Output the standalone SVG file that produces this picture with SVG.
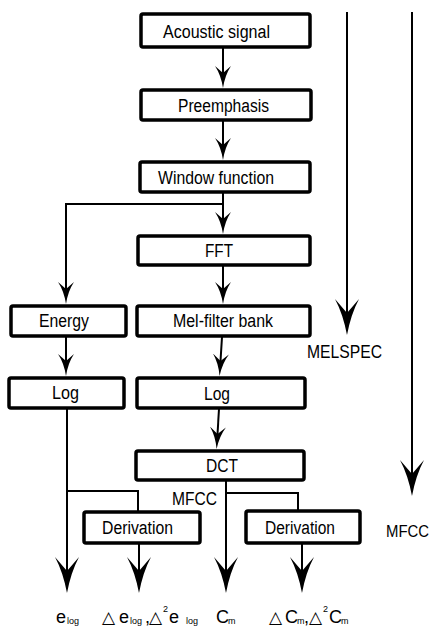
<svg xmlns="http://www.w3.org/2000/svg" width="434" height="626" viewBox="0 0 434 626">
<style>
.box{fill:#fff;stroke:#000;stroke-width:3.5}
.lbl{font-family:"Liberation Sans",Arial,sans-serif;font-size:18px;fill:#000}
.con{fill:none;stroke:#000;stroke-width:2}
.big{font-family:"Liberation Sans",Arial,sans-serif;font-size:18px;fill:#000}
.sub{font-family:"Liberation Sans",Arial,sans-serif;font-size:9px;fill:#000}
.tri{font-family:"DejaVu Sans",sans-serif;font-size:17px;fill:#000}
</style>
<defs>
<marker id="sa" markerUnits="userSpaceOnUse" viewBox="0 -9 22 18" refX="7" refY="0" markerWidth="22" markerHeight="18" orient="auto">
<path d="M22,0 Q9,-2 0,-8 L7,0 L0,8 Q9,2 22,0 Z" fill="#000"/>
</marker>
<marker id="la" markerUnits="userSpaceOnUse" viewBox="0 -13 36 26" refX="14" refY="0" markerWidth="36" markerHeight="26" orient="auto">
<path d="M36,0 Q15,-4 0,-12 L14,0 L0,12 Q15,4 36,0 Z" fill="#000"/>
</marker>
</defs>
<g id="connectors">
<path class="con" d="M223,48 V73" marker-end="url(#sa)"/>
<path class="con" d="M223,121 V145" marker-end="url(#sa)"/>
<path class="con" d="M223,193 V219" marker-end="url(#sa)"/>
<path class="con" d="M223,204 H66 V289" marker-end="url(#sa)"/>
<path class="con" d="M223,266 V289" marker-end="url(#sa)"/>
<path class="con" d="M66,337 V361" marker-end="url(#sa)"/>
<path class="con" d="M222,337 L220.5,361" marker-end="url(#sa)"/>
<path class="con" d="M219,409 L217.5,434" marker-end="url(#sa)"/>
<path class="con" d="M67,409 V571" marker-end="url(#la)"/>
<path class="con" d="M67,491 H138 V511"/>
<path class="con" d="M139,544 V571" marker-end="url(#la)"/>
<path class="con" d="M226,481 V571" marker-end="url(#la)"/>
<path class="con" d="M226,493 H298 V510"/>
<path class="con" d="M302,544 V571" marker-end="url(#la)"/>
<path class="con" d="M347,12 V313" marker-end="url(#la)"/>
<path class="con" d="M412,12 V474" marker-end="url(#la)"/>
</g>
<g id="n_acoustic"><rect class="box" x="141" y="14" width="169" height="33" rx="2"/><text class="lbl" x="163" y="38" textLength="107" lengthAdjust="spacingAndGlyphs">Acoustic signal</text></g>
<g id="n_preemphasis"><rect class="box" x="141" y="90" width="170" height="30" rx="2"/><text class="lbl" x="178" y="112" textLength="91" lengthAdjust="spacingAndGlyphs">Preemphasis</text></g>
<g id="n_window"><rect class="box" x="140" y="162" width="170" height="30" rx="2"/><text class="lbl" x="158" y="184" textLength="116" lengthAdjust="spacingAndGlyphs">Window function</text></g>
<g id="n_fft"><rect class="box" x="138" y="236" width="172" height="29" rx="2"/><text class="lbl" x="205" y="257" textLength="28" lengthAdjust="spacingAndGlyphs">FFT</text></g>
<g id="n_energy"><rect class="box" x="11" y="306" width="115" height="30" rx="2"/><text class="lbl" x="39" y="327" textLength="50" lengthAdjust="spacingAndGlyphs">Energy</text></g>
<g id="n_mel"><rect class="box" x="137" y="306" width="173" height="30" rx="2"/><text class="lbl" x="173" y="327" textLength="100" lengthAdjust="spacingAndGlyphs">Mel-filter bank</text></g>
<g id="n_log1"><rect class="box" x="9" y="378" width="115" height="30" rx="2"/><text class="lbl" x="52" y="399" textLength="27" lengthAdjust="spacingAndGlyphs">Log</text></g>
<g id="n_log2"><rect class="box" x="137" y="378" width="168" height="30" rx="2"/><text class="lbl" x="204" y="400" textLength="26" lengthAdjust="spacingAndGlyphs">Log</text></g>
<g id="n_dct"><rect class="box" x="136" y="451" width="168" height="29" rx="2"/><text class="lbl" x="206" y="472" textLength="32" lengthAdjust="spacingAndGlyphs">DCT</text></g>
<g id="n_der1"><rect class="box" x="84" y="512" width="116" height="31" rx="2"/><text class="lbl" x="102" y="534" textLength="71" lengthAdjust="spacingAndGlyphs">Derivation</text></g>
<g id="n_der2"><rect class="box" x="246" y="511" width="114" height="32" rx="2"/><text class="lbl" x="265" y="534" textLength="70" lengthAdjust="spacingAndGlyphs">Derivation</text></g>
<g id="labels">
<text class="lbl" x="172" y="505" textLength="45" lengthAdjust="spacingAndGlyphs">MFCC</text>
<text class="lbl" x="307" y="358" textLength="75" lengthAdjust="spacingAndGlyphs">MELSPEC</text>
<text class="lbl" x="386" y="537" style="font-size:16px" textLength="43" lengthAdjust="spacingAndGlyphs">MFCC</text>
<text class="big" x="56" y="623">e</text><text class="sub" x="67" y="624">log</text>
<text class="tri" x="102" y="623">△</text><text class="big" x="119" y="623">e</text><text class="sub" x="130" y="624">log</text><text class="big" x="145" y="623">,</text>
<text class="tri" x="149" y="623">△</text><text class="sub" x="163" y="612">2</text><text class="big" x="169" y="623">e</text><text class="sub" x="186" y="624">log</text>
<text class="big" x="216" y="623">C</text><text class="sub" x="228" y="624">m</text>
<text class="tri" x="269" y="623">△</text><text class="big" x="285" y="623">C</text><text class="sub" x="297" y="624">m</text><text class="big" x="304" y="623">,</text>
<text class="tri" x="309" y="623">△</text><text class="sub" x="323" y="612">2</text><text class="big" x="329" y="623">C</text><text class="sub" x="341" y="624">m</text>
</g>
</svg>
